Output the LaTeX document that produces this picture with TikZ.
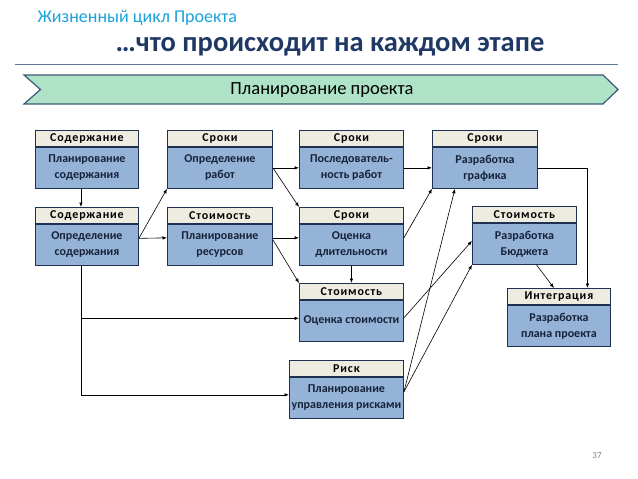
\documentclass[tikz,border=0pt]{standalone}
\usepackage{fontspec}
\setmainfont{Carlito}
\newfontfamily\headfont[LetterSpace=7]{Carlito}
\usetikzlibrary{positioning,arrows.meta}

\definecolor{titleblue}{HTML}{1BA1DC}
\definecolor{titlenavy}{HTML}{1F3864}
\definecolor{rulegray}{HTML}{5F7A95}
\definecolor{bannerfill}{HTML}{AEE3C8}
\definecolor{bannerline}{HTML}{3D5877}
\definecolor{boxline}{HTML}{1F3050}
\definecolor{headfill}{HTML}{EEECE1}
\definecolor{bodyfill}{HTML}{95B3D7}
\definecolor{bodytext}{HTML}{16223A}

\begin{document}
\begin{tikzpicture}[x=1pt,y=-1pt,
  head/.style={draw=boxline,fill=headfill,line width=.9pt,minimum height=16pt,inner sep=0pt,
    font=\headfont\bfseries\fontsize{12}{12}\selectfont},
  body/.style={draw=boxline,fill=bodyfill,line width=.9pt,minimum height=41pt,inner sep=0pt,
    align=center,text=bodytext,font=\bfseries\fontsize{12}{16}\selectfont},
  link/.style={-{Latex[length=4.5pt,width=3.5pt]},line width=.6pt}]
\useasboundingbox (0,0) rectangle (638,479);
\def\taskbox#1#2#3#4#5#6{%
  \node[head,minimum width=#4pt,anchor=north west] (#1h) at (#2,#3) {#5};
  \node[body,minimum width=#4pt,below=0pt of #1h] (#1) {#6};}

% titles
\node[anchor=west,text=titleblue,font=\fontsize{18}{20}\selectfont] (lifecycle) at (34,18) {Жизненный цикл Проекта};
\node[text=titlenavy,font=\bfseries\fontsize{28.5}{32}\selectfont] (stage) at (330,47) {…что происходит на каждом этапе};
\draw[rulegray,line width=.8pt] (15,64) -- (618,64);

% banner
\draw[fill=bannerfill,draw=bannerline,line width=1.2pt]
  (24,75) -- (603,75) -- (618,89.5) -- (603,104) -- (24,104) -- (40.5,89.5) -- cycle;
\node[font=\fontsize{18.5}{20}\selectfont] (planning) at (322,90) {Планирование проекта};

% boxes
\taskbox{sodplan}{35}{130}{103}{Содержание}{Планирование\\содержания}
\taskbox{soddef}{35}{207}{103}{Содержание}{Определение\\содержания}
\taskbox{worksdef}{167}{130}{105}{Сроки}{Определение\\работ}
\taskbox{resplan}{167}{207}{105}{Стоимость}{Планирование\\ресурсов}
\taskbox{worksseq}{299}{130}{104}{Сроки}{Последователь-\\ность работ}
\taskbox{schedule}{432}{130}{105}{Сроки}{Разработка\\графика}
\taskbox{duration}{299}{207}{104}{Сроки}{Оценка\\длительности}
\taskbox{budget}{472}{206}{104}{Стоимость}{Разработка\\Бюджета}
\taskbox{costest}{299}{283}{104}{Стоимость}{Оценка стоимости}
\taskbox{riskplan}{289}{360}{114}{Риск}{Планирование\\управления рисками}
\taskbox{projplan}{507}{288}{103}{Интеграция}{Разработка\\плана проекта}

% links
\draw[link] ([xshift=-6pt]sodplan.south) -- ([xshift=-6pt]soddefh.north);
\draw[link] ([yshift=6.5pt]soddef.east) -- (worksdef.south west);
\draw[link] ([yshift=6.5pt]soddef.east) -- ([yshift=7pt]resplan.west);
\draw[link] (worksdef.east) -- (worksseq.west);
\draw[link] (worksdef.east) -- (durationh.north west);
\draw[link] ([yshift=7pt]resplan.east) -- ([yshift=7pt]duration.west);
\draw[link] ([yshift=5pt]resplan.east) -- (costesth.north west);
\draw[link] (worksseq.east) -- (schedule.west);
\draw[link] ([yshift=7pt]duration.east) -- (schedule.south west);
\draw[link] (duration.south) -- (costesth.north);
\draw[link] ([yshift=3pt]costest.east) -- ([yshift=3pt]budget.west);
\draw[link] ([yshift=6pt]riskplan.east) -- ([xshift=-30pt]schedule.south);
\draw[link] ([yshift=6pt]riskplan.east) -- (budget.south west);
\draw[link] ([xshift=12pt]budget.south) -- ([xshift=-5pt]projplanh.north);
\draw[link] (schedule.east) -| ([xshift=28.5pt]projplanh.north);
\draw[link] ([xshift=-6pt]soddef.south) |- ([yshift=2.5pt]costest.west);
\draw[link] ([xshift=-6pt]soddef.south) |- ([yshift=3pt]riskplan.west);

\node[text=gray,font=\fontsize{9}{10}\selectfont] (pagenum) at (597,456) {37};
\end{tikzpicture}
\end{document}
